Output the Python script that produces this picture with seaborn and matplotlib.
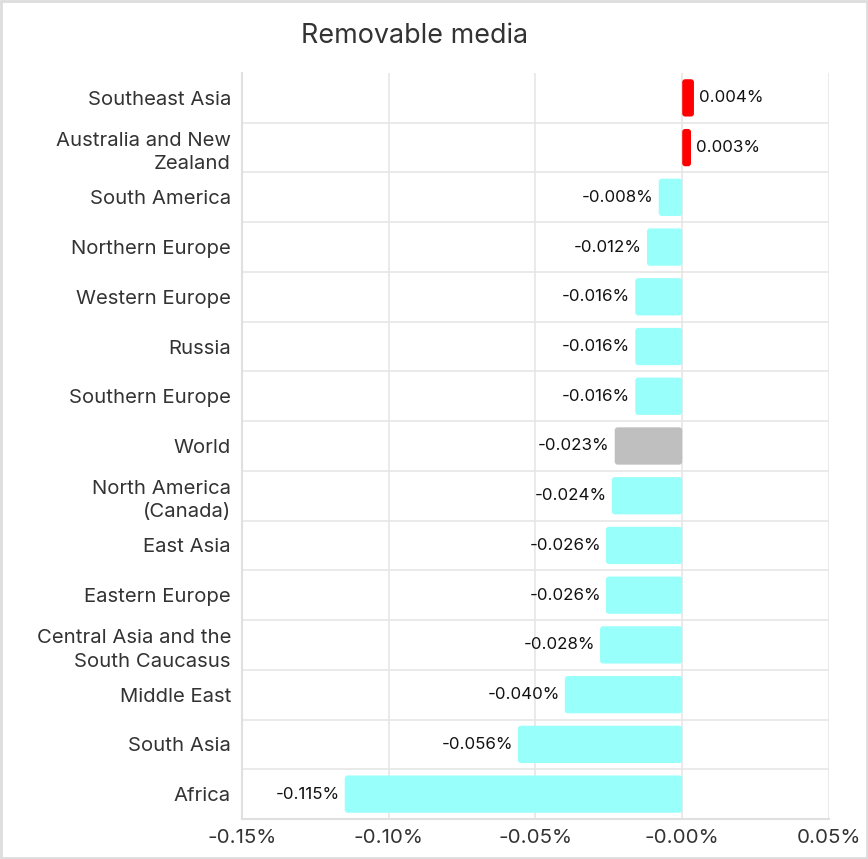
import numpy as np
import pandas as pd
import matplotlib.pyplot as plt
import seaborn as sns
from matplotlib.patches import FancyBboxPatch, Rectangle
from matplotlib.ticker import FuncFormatter, FixedLocator

regions = ['Southeast Asia', 'Australia and New\nZealand', 'South America', 'Northern Europe',
           'Western Europe', 'Russia', 'Southern Europe', 'World', 'North America\n(Canada)',
           'East Asia', 'Eastern Europe', 'Central Asia and the\nSouth Caucasus', 'Middle East',
           'South Asia', 'Africa']
values = [0.004, 0.003, -0.008, -0.012, -0.016, -0.016, -0.016, -0.023, -0.024,
          -0.026, -0.026, -0.028, -0.040, -0.056, -0.115]
labels = ['0.004%', '0.003%', '-0.008%', '-0.012%', '-0.016%', '-0.016%', '-0.016%', '-0.023%',
          '-0.024%', '-0.026%', '-0.026%', '-0.028%', '-0.040%', '-0.056%', '-0.115%']

def bar_color(name, v):
    if name == 'World':
        return '#BFBFBF'
    return '#FF0000' if v > 0 else '#99FFFA'

colors = [bar_color(r, v) for r, v in zip(regions, values)]
df = pd.DataFrame({'region': regions, 'value': values})

sns.set_theme(style="white")
plt.rcParams['font.family'] = ['Inter', 'DejaVu Sans']
txt = '#333333'
grid = '#E6E6E6'

fig = plt.figure(figsize=(8.68, 8.59), dpi=100)
ax = fig.add_axes([0.2788, 0.0466, 0.955 - 0.2788, 0.915 - 0.0466])

sns.barplot(data=df, x='value', y='region', hue='region', palette=colors, legend=False,
            width=0.75, saturation=1, ax=ax, orient='h', zorder=3)

# rounded bars
xpx = 0.05 / 146.7
ypx = 1 / 49.6
for p in list(ax.patches):
    x0, y0, w, h = p.get_x(), p.get_y(), p.get_width(), p.get_height()
    if w < 0:
        x0, w = x0 + w, -w
    fb = FancyBboxPatch((x0, y0), w, h,
                        boxstyle="round,pad=0,rounding_size=%f" % (3 * xpx),
                        mutation_aspect=ypx / xpx, facecolor=p.get_facecolor(),
                        edgecolor='none', zorder=3)
    p.remove()
    ax.add_patch(fb)

for i, (v, lab) in enumerate(zip(values, labels)):
    if v > 0:
        ax.text(v + 5 * xpx, i, lab, ha='left', va='center', fontsize=12.2, color='#111111')
    else:
        ax.text(v - 5 * xpx, i, lab, ha='right', va='center', fontsize=12.2, color='#111111')

ax.set_xlim(-0.15, 0.05)
ax.set_ylim(len(regions) - 0.5, -0.5)
ax.set_xticks([-0.15, -0.10, -0.05, 0.0, 0.05])
ax.xaxis.set_major_formatter(FuncFormatter(lambda x, pos: '-0.00%' if abs(x) < 1e-9 else f'{x:.2f}%'))
ax.yaxis.set_minor_locator(FixedLocator(np.arange(0.5, len(regions) - 1, 1)))
ax.set_xlabel('')
ax.set_ylabel('')

ax.grid(axis='x', which='major', color=grid, linewidth=1.2, zorder=0)
ax.grid(axis='y', which='minor', color=grid, linewidth=1.2, zorder=0)
ax.set_axisbelow(True)
for s in ['top', 'right']:
    ax.spines[s].set_visible(False)
for s in ['left', 'bottom']:
    ax.spines[s].set_color('#E0E0E0')
    ax.spines[s].set_linewidth(1.5)

ax.tick_params(axis='x', which='major', length=4, width=1.2, color='#E0E0E0',
               labelsize=14.8, labelcolor=txt, pad=3)
ax.tick_params(axis='y', which='major', length=5, width=1.2, color='#E0E0E0',
               labelsize=14.6, labelcolor=txt, pad=3)
ax.tick_params(axis='y', which='minor', length=0)
for t in ax.get_yticklabels():
    t.set_linespacing(1.4)

fig.text(415 / 868, 1 - 36 / 859, 'Removable media', ha='center', va='center',
         fontsize=19.4, color=txt)

fig.patches.append(Rectangle((0.001, 0.001), 0.998, 0.998, transform=fig.transFigure,
                             fill=False, edgecolor='#DDDDDD', linewidth=2))

fig.savefig('out.png', dpi=100)
